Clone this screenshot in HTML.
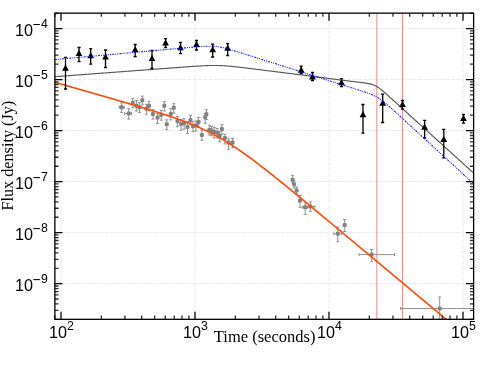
<!DOCTYPE html>
<html><head><meta charset="utf-8"><title>Flux density</title>
<style>
html,body{margin:0;padding:0;background:#fff;}
body{width:501px;height:371px;overflow:hidden;}
svg{display:block;will-change:transform;}
.tl{font-family:"Liberation Sans",sans-serif;font-size:16.2px;fill:#000;}
.sup{font-size:12.3px;}
.al{font-family:"Liberation Serif",serif;font-size:16.2px;fill:#000;}
.xl{font-size:16.5px;}
</style></head><body>
<svg width="501" height="371" viewBox="0 0 501 371">
<rect x="0" y="0" width="501" height="371" fill="#ffffff"/>
<defs><clipPath id="ax"><rect x="54.87" y="13.14" width="418.74" height="306.18"/></clipPath></defs>

<g stroke="#d6d6d6" stroke-width="0.5" stroke-dasharray="4.4 1.1" fill="none">
<line x1="61.00" y1="13.14" x2="61.00" y2="319.32"/>
<line x1="195.00" y1="13.14" x2="195.00" y2="319.32"/>
<line x1="329.00" y1="13.14" x2="329.00" y2="319.32"/>
<line x1="463.00" y1="13.14" x2="463.00" y2="319.32"/>
<line x1="54.87" y1="283.65" x2="473.61" y2="283.65"/>
<line x1="54.87" y1="232.62" x2="473.61" y2="232.62"/>
<line x1="54.87" y1="181.59" x2="473.61" y2="181.59"/>
<line x1="54.87" y1="130.56" x2="473.61" y2="130.56"/>
<line x1="54.87" y1="79.53" x2="473.61" y2="79.53"/>
<line x1="54.87" y1="28.50" x2="473.61" y2="28.50"/>
</g>
<g clip-path="url(#ax)">
<line x1="376.8" y1="13.14" x2="376.8" y2="319.32" stroke="#f28a8a" stroke-width="1"/>
<line x1="402.5" y1="13.14" x2="402.5" y2="319.32" stroke="#f28a8a" stroke-width="1"/>
<polyline points="54.9,76.69 55.9,76.61 56.9,76.54 57.9,76.46 58.9,76.39 59.9,76.31 60.9,76.24 61.9,76.16 62.9,76.09 63.9,76.01 64.9,75.94 65.9,75.86 66.9,75.79 67.9,75.71 68.9,75.64 69.9,75.56 70.9,75.49 71.9,75.41 72.9,75.34 73.9,75.26 74.9,75.19 75.9,75.11 76.9,75.04 77.9,74.97 78.9,74.89 79.9,74.82 80.9,74.74 81.9,74.67 82.9,74.59 83.9,74.52 84.9,74.44 85.9,74.37 86.9,74.29 87.9,74.22 88.9,74.14 89.9,74.07 90.9,73.99 91.9,73.92 92.9,73.84 93.9,73.77 94.9,73.69 95.9,73.62 96.9,73.54 97.9,73.47 98.9,73.39 99.9,73.32 100.9,73.24 101.9,73.17 102.9,73.10 103.9,73.02 104.9,72.95 105.9,72.87 106.9,72.80 107.9,72.72 108.9,72.65 109.9,72.57 110.9,72.50 111.9,72.42 112.9,72.35 113.9,72.27 114.9,72.20 115.9,72.12 116.9,72.05 117.9,71.97 118.9,71.90 119.9,71.82 120.9,71.75 121.9,71.67 122.9,71.60 123.9,71.52 124.9,71.45 125.9,71.37 126.9,71.30 127.9,71.23 128.9,71.15 129.9,71.08 130.9,71.00 131.9,70.93 132.9,70.85 133.9,70.78 134.9,70.70 135.9,70.63 136.9,70.55 137.9,70.48 138.9,70.40 139.9,70.33 140.9,70.25 141.9,70.18 142.9,70.10 143.9,70.03 144.9,69.95 145.9,69.88 146.9,69.80 147.9,69.73 148.9,69.65 149.9,69.58 150.9,69.51 151.9,69.43 152.9,69.36 153.9,69.28 154.9,69.21 155.9,69.13 156.9,69.06 157.9,68.98 158.9,68.91 159.9,68.83 160.9,68.76 161.9,68.68 162.9,68.61 163.9,68.53 164.9,68.46 165.9,68.38 166.9,68.31 167.9,68.23 168.9,68.16 169.9,68.09 170.9,68.01 171.9,67.94 172.9,67.86 173.9,67.79 174.9,67.71 175.9,67.64 176.9,67.57 177.9,67.49 178.9,67.42 179.9,67.34 180.9,67.27 181.9,67.20 182.9,67.12 183.9,67.05 184.9,66.98 185.9,66.91 186.9,66.83 187.9,66.76 188.9,66.69 189.9,66.62 190.9,66.55 191.9,66.48 192.9,66.41 193.9,66.34 194.9,66.28 195.9,66.21 196.9,66.15 197.9,66.08 198.9,66.02 199.9,65.96 200.9,65.90 201.9,65.85 202.9,65.79 203.9,65.74 204.9,65.70 205.9,65.65 206.9,65.61 207.9,65.57 208.9,65.54 209.9,65.51 210.9,65.49 211.9,65.47 212.9,65.46 213.9,65.46 214.9,65.46 215.9,65.46 216.9,65.48 217.9,65.50 218.9,65.52 219.9,65.56 220.9,65.60 221.9,65.64 222.9,65.70 223.9,65.76 224.9,65.82 225.9,65.89 226.9,65.97 227.9,66.05 228.9,66.14 229.9,66.23 230.9,66.32 231.9,66.42 232.9,66.52 233.9,66.62 234.9,66.73 235.9,66.84 236.9,66.95 237.9,67.06 238.9,67.17 239.9,67.29 240.9,67.40 241.9,67.52 242.9,67.64 243.9,67.76 244.9,67.88 245.9,68.00 246.9,68.12 247.9,68.25 248.9,68.37 249.9,68.49 250.9,68.62 251.9,68.74 252.9,68.87 253.9,68.99 254.9,69.11 255.9,69.24 256.9,69.36 257.9,69.49 258.9,69.62 259.9,69.74 260.9,69.87 261.9,69.99 262.9,70.12 263.9,70.24 264.9,70.37 265.9,70.50 266.9,70.62 267.9,70.75 268.9,70.87 269.9,71.00 270.9,71.13 271.9,71.25 272.9,71.38 273.9,71.50 274.9,71.63 275.9,71.76 276.9,71.88 277.9,72.01 278.9,72.14 279.9,72.26 280.9,72.39 281.9,72.51 282.9,72.64 283.9,72.77 284.9,72.89 285.9,73.02 286.9,73.15 287.9,73.27 288.9,73.40 289.9,73.52 290.9,73.65 291.9,73.78 292.9,73.90 293.9,74.03 294.9,74.16 295.9,74.28 296.9,74.41 297.9,74.53 298.9,74.66 299.9,74.79 300.9,74.91 301.9,75.04 302.9,75.17 303.9,75.29 304.9,75.42 305.9,75.55 306.9,75.67 307.9,75.80 308.9,75.92 309.9,76.05 310.9,76.18 311.9,76.30 312.9,76.43 313.9,76.56 314.9,76.68 315.9,76.81 316.9,76.93 317.9,77.06 318.9,77.19 319.9,77.31 320.9,77.44 321.9,77.57 322.9,77.69 323.9,77.82 324.9,77.94 325.9,78.07 326.9,78.20 327.9,78.32 328.9,78.45 329.9,78.58 330.9,78.70 331.9,78.83 332.9,78.96 333.9,79.08 334.9,79.21 335.9,79.33 336.9,79.46 337.9,79.59 338.9,79.71 339.9,79.84 340.9,79.97 341.9,80.09 342.9,80.22 343.9,80.34 344.9,80.47 345.9,80.60 346.9,80.72 347.9,80.85 348.9,80.98 349.9,81.10 350.9,81.23 351.9,81.36 352.9,81.48 353.9,81.61 354.9,81.73 355.9,81.86 356.9,81.99 357.9,82.12 358.9,82.24 359.9,82.37 360.9,82.50 361.9,82.63 362.9,82.76 363.9,82.90 364.9,83.04 365.9,83.18 366.9,83.33 367.9,83.50 368.9,83.68 369.9,83.87 370.9,84.10 371.9,84.36 372.9,84.67 373.9,85.04 374.9,85.46 375.9,85.96 376.9,86.53 377.9,87.16 378.9,87.86 379.9,88.61 380.9,89.39 381.9,90.21 382.9,91.06 383.9,91.92 384.9,92.79 385.9,93.68 386.9,94.57 387.9,95.46 388.9,96.36 389.9,97.26 390.9,98.16 391.9,99.07 392.9,99.97 393.9,100.88 394.9,101.78 395.9,102.69 396.9,103.59 397.9,104.50 398.9,105.40 399.9,106.31 400.9,107.21 401.9,108.12 402.9,109.02 403.9,109.93 404.9,110.83 405.9,111.74 406.9,112.65 407.9,113.55 408.9,114.46 409.9,115.36 410.9,116.27 411.9,117.17 412.9,118.08 413.9,118.98 414.9,119.89 415.9,120.80 416.9,121.70 417.9,122.61 418.9,123.51 419.9,124.42 420.9,125.32 421.9,126.23 422.9,127.14 423.9,128.04 424.9,128.95 425.9,129.85 426.9,130.76 427.9,131.66 428.9,132.57 429.9,133.47 430.9,134.38 431.9,135.29 432.9,136.19 433.9,137.10 434.9,138.00 435.9,138.91 436.9,139.81 437.9,140.72 438.9,141.62 439.9,142.53 440.9,143.44 441.9,144.34 442.9,145.25 443.9,146.15 444.9,147.06 445.9,147.96 446.9,148.87 447.9,149.78 448.9,150.68 449.9,151.59 450.9,152.49 451.9,153.40 452.9,154.30 453.9,155.21 454.9,156.11 455.9,157.02 456.9,157.93 457.9,158.83 458.9,159.74 459.9,160.64 460.9,161.55 461.9,162.45 462.9,163.36 463.9,164.26 464.9,165.17 465.9,166.08 466.9,166.98 467.9,167.89 468.9,168.79 469.9,169.70 470.9,170.60 471.9,171.51 472.9,172.42" fill="none" stroke="#565656" stroke-width="1.15"/>
<g stroke="#868686" stroke-width="0.9" fill="#828282">
<path d="M121.6 102.8V112.4M120.1 102.8h3M120.1 112.4h3" fill="none"/>
<path d="M119.2 107.3H124.4M119.2 105.8v3M124.4 105.8v3" fill="none"/>
<rect x="119.6" y="105.3" width="4" height="4" rx="1.2" stroke="none"/>
<path d="M128.7 108.7V119.1M127.2 108.7h3M127.2 119.1h3" fill="none"/>
<path d="M124.4 113.5H131.5M124.4 112.0v3M131.5 112.0v3" fill="none"/>
<rect x="126.7" y="111.5" width="4" height="4" rx="1.2" stroke="none"/>
<path d="M132.8 98.4V107.7M131.3 98.4h3M131.3 107.7h3" fill="none"/>
<rect x="130.8" y="100.8" width="4" height="4" rx="1.2" stroke="none"/>
<path d="M136.4 100.6V111.0M134.9 100.6h3M134.9 111.0h3" fill="none"/>
<rect x="134.4" y="103.8" width="4" height="4" rx="1.2" stroke="none"/>
<path d="M139.4 102.8V112.4M137.9 102.8h3M137.9 112.4h3" fill="none"/>
<rect x="137.4" y="105.3" width="4" height="4" rx="1.2" stroke="none"/>
<path d="M142.3 96.1V105.0M140.8 96.1h3M140.8 105.0h3" fill="none"/>
<rect x="140.3" y="98.3" width="4" height="4" rx="1.2" stroke="none"/>
<path d="M146.4 104.3V114.2M144.9 104.3h3M144.9 114.2h3" fill="none"/>
<rect x="144.4" y="106.7" width="4" height="4" rx="1.2" stroke="none"/>
<path d="M149.0 101.3V111.0M147.5 101.3h3M147.5 111.0h3" fill="none"/>
<rect x="147.0" y="103.8" width="4" height="4" rx="1.2" stroke="none"/>
<path d="M153.0 109.5V119.1M151.5 109.5h3M151.5 119.1h3" fill="none"/>
<rect x="151.0" y="111.9" width="4" height="4" rx="1.2" stroke="none"/>
<path d="M157.5 113.2V123.3M156.0 113.2h3M156.0 123.3h3" fill="none"/>
<rect x="155.5" y="115.6" width="4" height="4" rx="1.2" stroke="none"/>
<path d="M161.2 110.5V120.2M159.7 110.5h3M159.7 120.2h3" fill="none"/>
<rect x="159.2" y="112.7" width="4" height="4" rx="1.2" stroke="none"/>
<path d="M164.3 101.6V111.0M162.8 101.6h3M162.8 111.0h3" fill="none"/>
<rect x="162.3" y="103.8" width="4" height="4" rx="1.2" stroke="none"/>
<path d="M166.8 119.9V129.5M165.3 119.9h3M165.3 129.5h3" fill="none"/>
<rect x="164.8" y="122.3" width="4" height="4" rx="1.2" stroke="none"/>
<path d="M170.8 108.7V119.9M169.3 108.7h3M169.3 119.9h3" fill="none"/>
<rect x="168.8" y="111.9" width="4" height="4" rx="1.2" stroke="none"/>
<path d="M173.8 103.7V113.3M172.3 103.7h3M172.3 113.3h3" fill="none"/>
<rect x="171.8" y="105.8" width="4" height="4" rx="1.2" stroke="none"/>
<path d="M177.5 116.3V126.7M176.0 116.3h3M176.0 126.7h3" fill="none"/>
<rect x="175.5" y="119.2" width="4" height="4" rx="1.2" stroke="none"/>
<path d="M181.1 119.5V130.2M179.6 119.5h3M179.6 130.2h3" fill="none"/>
<rect x="179.1" y="121.9" width="4" height="4" rx="1.2" stroke="none"/>
<path d="M184.1 118.7V129.1M182.6 118.7h3M182.6 129.1h3" fill="none"/>
<rect x="182.1" y="121.2" width="4" height="4" rx="1.2" stroke="none"/>
<path d="M187.5 121.7V133.3M186.0 121.7h3M186.0 133.3h3" fill="none"/>
<rect x="185.5" y="124.9" width="4" height="4" rx="1.2" stroke="none"/>
<path d="M190.5 115.5V124.7M189.0 115.5h3M189.0 124.7h3" fill="none"/>
<rect x="188.5" y="118.2" width="4" height="4" rx="1.2" stroke="none"/>
<path d="M193.0 121.7V131.4M191.5 121.7h3M191.5 131.4h3" fill="none"/>
<rect x="191.0" y="124.2" width="4" height="4" rx="1.2" stroke="none"/>
<path d="M196.0 121.0V131.0M194.5 121.0h3M194.5 131.0h3" fill="none"/>
<rect x="194.0" y="123.4" width="4" height="4" rx="1.2" stroke="none"/>
<path d="M198.5 117.3V126.9M197.0 117.3h3M197.0 126.9h3" fill="none"/>
<rect x="196.5" y="120.0" width="4" height="4" rx="1.2" stroke="none"/>
<path d="M201.9 130.6V140.3M200.4 130.6h3M200.4 140.3h3" fill="none"/>
<rect x="199.9" y="133.0" width="4" height="4" rx="1.2" stroke="none"/>
<path d="M205.2 113.5V123.2M203.7 113.5h3M203.7 123.2h3" fill="none"/>
<rect x="203.2" y="115.3" width="4" height="4" rx="1.2" stroke="none"/>
<path d="M206.4 109.8V119.5M204.9 109.8h3M204.9 119.5h3" fill="none"/>
<rect x="204.4" y="112.3" width="4" height="4" rx="1.2" stroke="none"/>
<path d="M209.3 125.4V135.0M207.8 125.4h3M207.8 135.0h3" fill="none"/>
<rect x="207.3" y="127.9" width="4" height="4" rx="1.2" stroke="none"/>
<path d="M211.5 126.5V135.8M210.0 126.5h3M210.0 135.8h3" fill="none"/>
<rect x="209.5" y="128.6" width="4" height="4" rx="1.2" stroke="none"/>
<path d="M214.2 127.6V138.0M212.7 127.6h3M212.7 138.0h3" fill="none"/>
<rect x="212.2" y="130.1" width="4" height="4" rx="1.2" stroke="none"/>
<path d="M217.2 128.4V138.0M215.7 128.4h3M215.7 138.0h3" fill="none"/>
<rect x="215.2" y="130.8" width="4" height="4" rx="1.2" stroke="none"/>
<path d="M219.7 131.4V141.7M218.2 131.4h3M218.2 141.7h3" fill="none"/>
<rect x="217.7" y="133.8" width="4" height="4" rx="1.2" stroke="none"/>
<path d="M221.9 124.7V134.3M220.4 124.7h3M220.4 134.3h3" fill="none"/>
<rect x="219.9" y="127.1" width="4" height="4" rx="1.2" stroke="none"/>
<path d="M224.9 134.3V144.0M223.4 134.3h3M223.4 144.0h3" fill="none"/>
<rect x="222.9" y="136.0" width="4" height="4" rx="1.2" stroke="none"/>
<path d="M228.6 138.8V149.2M227.1 138.8h3M227.1 149.2h3" fill="none"/>
<rect x="226.6" y="140.5" width="4" height="4" rx="1.2" stroke="none"/>
<path d="M232.6 138.5V147.7M231.1 138.5h3M231.1 147.7h3" fill="none"/>
<rect x="230.6" y="140.5" width="4" height="4" rx="1.2" stroke="none"/>
<path d="M292.6 175.4V183.0M291.1 175.4h3M291.1 183.0h3" fill="none"/>
<rect x="290.6" y="177.8" width="4" height="4" rx="1.2" stroke="none"/>
<path d="M294.1 181.0V188.0M292.6 181.0h3M292.6 188.0h3" fill="none"/>
<rect x="292.1" y="182.3" width="4" height="4" rx="1.2" stroke="none"/>
<path d="M296.6 187.0V194.0M295.1 187.0h3M295.1 194.0h3" fill="none"/>
<rect x="294.6" y="188.5" width="4" height="4" rx="1.2" stroke="none"/>
<path d="M300.0 195.4V207.3M298.5 195.4h3M298.5 207.3h3" fill="none"/>
<rect x="298.0" y="198.6" width="4" height="4" rx="1.2" stroke="none"/>
<path d="M305.2 202.8V214.4M303.7 202.8h3M303.7 214.4h3" fill="none"/>
<path d="M302.3 207.3H307.5M302.3 205.8v3M307.5 205.8v3" fill="none"/>
<rect x="303.2" y="205.3" width="4" height="4" rx="1.2" stroke="none"/>
<path d="M310.4 202.1V211.3M308.9 202.1h3M308.9 211.3h3" fill="none"/>
<path d="M308.2 206.5H314.9M308.2 205.0v3M314.9 205.0v3" fill="none"/>
<rect x="308.4" y="204.5" width="4" height="4" rx="1.2" stroke="none"/>
<path d="M337.8 226.9V241.8M336.3 226.9h3M336.3 241.8h3" fill="none"/>
<path d="M333.9 233.8H341.9M333.9 232.3v3M341.9 232.3v3" fill="none"/>
<rect x="335.8" y="231.8" width="4" height="4" rx="1.2" stroke="none"/>
<path d="M344.7 219.6V231.5M343.2 219.6h3M343.2 231.5h3" fill="none"/>
<rect x="342.7" y="223.1" width="4" height="4" rx="1.2" stroke="none"/>
<path d="M371.6 249.6V261.3M370.1 249.6h3M370.1 261.3h3" fill="none"/>
<path d="M359.0 254.6H394.5M359.0 253.1v3M394.5 253.1v3" fill="none"/>
<rect x="369.6" y="252.6" width="4" height="4" rx="1.2" stroke="none"/>
<path d="M439.7 297.0V319.3M438.2 297.0h3M438.2 319.3h3" fill="none"/>
<path d="M400.6 308.5H473.6M400.6 307.0v3M473.6 307.0v3" fill="none"/>
<rect x="437.7" y="306.5" width="4" height="4" rx="1.2" stroke="none"/>
</g>
<polyline points="54.9,82.27 55.9,82.56 56.9,82.84 57.9,83.13 58.9,83.42 59.9,83.70 60.9,83.99 61.9,84.28 62.9,84.56 63.9,84.85 64.9,85.14 65.9,85.42 66.9,85.71 67.9,86.00 68.9,86.28 69.9,86.57 70.9,86.86 71.9,87.15 72.9,87.43 73.9,87.72 74.9,88.01 75.9,88.29 76.9,88.58 77.9,88.87 78.9,89.16 79.9,89.44 80.9,89.73 81.9,90.02 82.9,90.30 83.9,90.59 84.9,90.88 85.9,91.17 86.9,91.45 87.9,91.74 88.9,92.03 89.9,92.32 90.9,92.60 91.9,92.89 92.9,93.18 93.9,93.47 94.9,93.76 95.9,94.04 96.9,94.33 97.9,94.62 98.9,94.91 99.9,95.20 100.9,95.49 101.9,95.77 102.9,96.06 103.9,96.35 104.9,96.64 105.9,96.93 106.9,97.22 107.9,97.51 108.9,97.80 109.9,98.09 110.9,98.38 111.9,98.67 112.9,98.96 113.9,99.25 114.9,99.54 115.9,99.83 116.9,100.12 117.9,100.41 118.9,100.70 119.9,100.99 120.9,101.28 121.9,101.58 122.9,101.87 123.9,102.16 124.9,102.45 125.9,102.75 126.9,103.04 127.9,103.33 128.9,103.63 129.9,103.92 130.9,104.22 131.9,104.51 132.9,104.81 133.9,105.10 134.9,105.40 135.9,105.69 136.9,105.99 137.9,106.29 138.9,106.59 139.9,106.89 140.9,107.19 141.9,107.49 142.9,107.79 143.9,108.09 144.9,108.39 145.9,108.69 146.9,109.00 147.9,109.30 148.9,109.61 149.9,109.91 150.9,110.22 151.9,110.53 152.9,110.84 153.9,111.15 154.9,111.46 155.9,111.77 156.9,112.09 157.9,112.40 158.9,112.72 159.9,113.03 160.9,113.35 161.9,113.67 162.9,114.00 163.9,114.32 164.9,114.65 165.9,114.97 166.9,115.30 167.9,115.63 168.9,115.97 169.9,116.30 170.9,116.64 171.9,116.98 172.9,117.32 173.9,117.66 174.9,118.01 175.9,118.36 176.9,118.71 177.9,119.06 178.9,119.42 179.9,119.78 180.9,120.15 181.9,120.51 182.9,120.88 183.9,121.26 184.9,121.63 185.9,122.01 186.9,122.40 187.9,122.79 188.9,123.18 189.9,123.57 190.9,123.98 191.9,124.38 192.9,124.79 193.9,125.20 194.9,125.62 195.9,126.05 196.9,126.48 197.9,126.91 198.9,127.35 199.9,127.79 200.9,128.24 201.9,128.70 202.9,129.16 203.9,129.63 204.9,130.10 205.9,130.58 206.9,131.06 207.9,131.55 208.9,132.05 209.9,132.55 210.9,133.06 211.9,133.57 212.9,134.09 213.9,134.62 214.9,135.16 215.9,135.70 216.9,136.25 217.9,136.80 218.9,137.36 219.9,137.93 220.9,138.50 221.9,139.08 222.9,139.67 223.9,140.26 224.9,140.86 225.9,141.46 226.9,142.08 227.9,142.70 228.9,143.32 229.9,143.95 230.9,144.59 231.9,145.23 232.9,145.88 233.9,146.53 234.9,147.19 235.9,147.86 236.9,148.53 237.9,149.21 238.9,149.89 239.9,150.58 240.9,151.27 241.9,151.97 242.9,152.67 243.9,153.38 244.9,154.09 245.9,154.80 246.9,155.52 247.9,156.25 248.9,156.98 249.9,157.71 250.9,158.45 251.9,159.19 252.9,159.93 253.9,160.68 254.9,161.43 255.9,162.19 256.9,162.94 257.9,163.70 258.9,164.47 259.9,165.23 260.9,166.00 261.9,166.78 262.9,167.55 263.9,168.33 264.9,169.11 265.9,169.89 266.9,170.67 267.9,171.46 268.9,172.25 269.9,173.04 270.9,173.83 271.9,174.63 272.9,175.42 273.9,176.22 274.9,177.02 275.9,177.82 276.9,178.62 277.9,179.43 278.9,180.23 279.9,181.04 280.9,181.85 281.9,182.66 282.9,183.47 283.9,184.28 284.9,185.09 285.9,185.90 286.9,186.72 287.9,187.53 288.9,188.35 289.9,189.17 290.9,189.98 291.9,190.80 292.9,191.62 293.9,192.44 294.9,193.26 295.9,194.08 296.9,194.91 297.9,195.73 298.9,196.55 299.9,197.38 300.9,198.20 301.9,199.02 302.9,199.85 303.9,200.68 304.9,201.50 305.9,202.33 306.9,203.15 307.9,203.98 308.9,204.81 309.9,205.64 310.9,206.47 311.9,207.29 312.9,208.12 313.9,208.95 314.9,209.78 315.9,210.61 316.9,211.44 317.9,212.27 318.9,213.10 319.9,213.93 320.9,214.76 321.9,215.60 322.9,216.43 323.9,217.26 324.9,218.09 325.9,218.92 326.9,219.75 327.9,220.59 328.9,221.42 329.9,222.25 330.9,223.08 331.9,223.91 332.9,224.75 333.9,225.58 334.9,226.41 335.9,227.25 336.9,228.08 337.9,228.91 338.9,229.75 339.9,230.58 340.9,231.41 341.9,232.25 342.9,233.08 343.9,233.91 344.9,234.75 345.9,235.58 346.9,236.41 347.9,237.25 348.9,238.08 349.9,238.92 350.9,239.75 351.9,240.58 352.9,241.42 353.9,242.25 354.9,243.09 355.9,243.92 356.9,244.76 357.9,245.59 358.9,246.42 359.9,247.26 360.9,248.09 361.9,248.93 362.9,249.76 363.9,250.60 364.9,251.43 365.9,252.27 366.9,253.10 367.9,253.94 368.9,254.77 369.9,255.61 370.9,256.44 371.9,257.27 372.9,258.11 373.9,258.94 374.9,259.78 375.9,260.61 376.9,261.45 377.9,262.28 378.9,263.12 379.9,263.95 380.9,264.79 381.9,265.62 382.9,266.46 383.9,267.29 384.9,268.13 385.9,268.96 386.9,269.80 387.9,270.63 388.9,271.47 389.9,272.30 390.9,273.14 391.9,273.97 392.9,274.81 393.9,275.64 394.9,276.48 395.9,277.31 396.9,278.15 397.9,278.98 398.9,279.82 399.9,280.65 400.9,281.49 401.9,282.32 402.9,283.16 403.9,283.99 404.9,284.83 405.9,285.66 406.9,286.50 407.9,287.33 408.9,288.17 409.9,289.00 410.9,289.84 411.9,290.67 412.9,291.51 413.9,292.34 414.9,293.18 415.9,294.01 416.9,294.85 417.9,295.68 418.9,296.52 419.9,297.35 420.9,298.19 421.9,299.02 422.9,299.86 423.9,300.69 424.9,301.53 425.9,302.36 426.9,303.20 427.9,304.03 428.9,304.87 429.9,305.70 430.9,306.54 431.9,307.37 432.9,308.21 433.9,309.04 434.9,309.88 435.9,310.71 436.9,311.55 437.9,312.38 438.9,313.22 439.9,314.05 440.9,314.89 441.9,315.72 442.9,316.56 443.9,317.39 444.9,318.23 445.9,319.06 446.9,319.90 447.9,320.73 448.9,321.57 449.9,322.40 450.9,323.24 451.9,324.08 452.9,324.91 453.9,325.75 454.9,326.58 455.9,327.42 456.9,328.25 457.9,329.09 458.9,329.92 459.9,330.76 460.9,331.59 461.9,332.43 462.9,333.26 463.9,334.10 464.9,334.93 465.9,335.77 466.9,336.60 467.9,337.44 468.9,338.27 469.9,339.11 470.9,339.94 471.9,340.78 472.9,341.61" fill="none" stroke="#ff4a08" stroke-width="1.6"/>
<g stroke="#000" stroke-width="1.3" fill="#000">
<path d="M65.5 57.5V89.0M64.0 57.5h3.1M64.0 89.0h3.1" fill="none"/>
<path d="M65.5 64.5L68.8 70.8H62.1Z" stroke="none"/>
<path d="M79.0 47.5V61.7M77.5 47.5h3.1M77.5 61.7h3.1" fill="none"/>
<path d="M79.0 49.7L82.3 56.0H75.7Z" stroke="none"/>
<path d="M90.7 48.7V64.2M89.2 48.7h3.1M89.2 64.2h3.1" fill="none"/>
<path d="M90.7 52.0L94.0 58.3H87.4Z" stroke="none"/>
<path d="M105.5 50.0V67.5M104.0 50.0h3.1M104.0 67.5h3.1" fill="none"/>
<path d="M105.5 53.2L108.8 59.5H102.2Z" stroke="none"/>
<path d="M135.2 44.5V56.7M133.6 44.5h3.1M133.6 56.7h3.1" fill="none"/>
<path d="M135.2 46.0L138.5 52.3H131.8Z" stroke="none"/>
<path d="M152.0 50.5V68.5M150.4 50.5h3.1M150.4 68.5h3.1" fill="none"/>
<path d="M152.0 54.7L155.3 61.0H148.7Z" stroke="none"/>
<path d="M165.6 38.7V47.5M164.0 38.7h3.1M164.0 47.5h3.1" fill="none"/>
<path d="M165.6 39.2L168.9 45.5H162.2Z" stroke="none"/>
<path d="M180.5 42.5V53.7M178.9 42.5h3.1M178.9 53.7h3.1" fill="none"/>
<path d="M180.5 44.0L183.8 50.3H177.2Z" stroke="none"/>
<path d="M196.5 40.5V50.0M194.9 40.5h3.1M194.9 50.0h3.1" fill="none"/>
<path d="M196.5 40.7L199.8 47.0H193.2Z" stroke="none"/>
<path d="M212.7 44.2V57.0M211.1 44.2h3.1M211.1 57.0h3.1" fill="none"/>
<path d="M212.7 45.9L216.0 52.2H209.3Z" stroke="none"/>
<path d="M227.7 43.7V55.5M226.1 43.7h3.1M226.1 55.5h3.1" fill="none"/>
<path d="M227.7 44.5L231.0 50.8H224.3Z" stroke="none"/>
<path d="M301.2 66.2V73.7M299.6 66.2h3.1M299.6 73.7h3.1" fill="none"/>
<path d="M301.2 66.5L304.6 72.8H297.8Z" stroke="none"/>
<path d="M312.5 72.5V80.7M310.9 72.5h3.1M310.9 80.7h3.1" fill="none"/>
<path d="M312.5 73.2L315.9 79.5H309.1Z" stroke="none"/>
<path d="M341.5 78.7V86.7M339.9 78.7h3.1M339.9 86.7h3.1" fill="none"/>
<path d="M341.5 79.0L344.9 85.3H338.1Z" stroke="none"/>
<path d="M363.0 104.5V133.2M361.4 104.5h3.1M361.4 133.2h3.1" fill="none"/>
<path d="M363.0 111.0L366.4 117.3H359.6Z" stroke="none"/>
<path d="M382.7 94.2V122.5M381.1 94.2h3.1M381.1 122.5h3.1" fill="none"/>
<path d="M382.7 99.5L386.1 105.8H379.3Z" stroke="none"/>
<path d="M402.5 100.5V109.2M400.9 100.5h3.1M400.9 109.2h3.1" fill="none"/>
<path d="M402.5 100.7L405.9 107.0H399.1Z" stroke="none"/>
<path d="M424.6 120.3V138.0M423.1 120.3h3.1M423.1 138.0h3.1" fill="none"/>
<path d="M424.6 123.5L428.0 129.8H421.2Z" stroke="none"/>
<path d="M443.8 129.4V157.8M442.2 129.4h3.1M442.2 157.8h3.1" fill="none"/>
<path d="M443.8 135.8L447.2 142.1H440.4Z" stroke="none"/>
<path d="M463.5 114.5V123.2M461.9 114.5h3.1M461.9 123.2h3.1" fill="none"/>
<path d="M463.5 114.8L466.9 121.1H460.1Z" stroke="none"/>
</g>
<polyline points="54.9,59.55 55.9,59.46 56.9,59.37 57.9,59.28 58.9,59.19 59.9,59.10 60.9,59.01 61.9,58.92 62.9,58.83 63.9,58.74 64.9,58.65 65.9,58.56 66.9,58.47 67.9,58.38 68.9,58.29 69.9,58.20 70.9,58.11 71.9,58.02 72.9,57.93 73.9,57.84 74.9,57.75 75.9,57.66 76.9,57.57 77.9,57.48 78.9,57.39 79.9,57.30 80.9,57.21 81.9,57.12 82.9,57.03 83.9,56.94 84.9,56.85 85.9,56.76 86.9,56.67 87.9,56.58 88.9,56.49 89.9,56.40 90.9,56.31 91.9,56.22 92.9,56.13 93.9,56.04 94.9,55.95 95.9,55.86 96.9,55.77 97.9,55.68 98.9,55.59 99.9,55.50 100.9,55.41 101.9,55.32 102.9,55.23 103.9,55.14 104.9,55.05 105.9,54.96 106.9,54.87 107.9,54.78 108.9,54.69 109.9,54.60 110.9,54.51 111.9,54.42 112.9,54.33 113.9,54.24 114.9,54.15 115.9,54.06 116.9,53.97 117.9,53.88 118.9,53.80 119.9,53.71 120.9,53.62 121.9,53.53 122.9,53.44 123.9,53.35 124.9,53.26 125.9,53.17 126.9,53.08 127.9,52.99 128.9,52.90 129.9,52.81 130.9,52.72 131.9,52.63 132.9,52.54 133.9,52.45 134.9,52.36 135.9,52.27 136.9,52.18 137.9,52.09 138.9,52.00 139.9,51.91 140.9,51.82 141.9,51.73 142.9,51.64 143.9,51.55 144.9,51.46 145.9,51.37 146.9,51.28 147.9,51.19 148.9,51.10 149.9,51.01 150.9,50.92 151.9,50.83 152.9,50.74 153.9,50.65 154.9,50.56 155.9,50.47 156.9,50.38 157.9,50.29 158.9,50.20 159.9,50.11 160.9,50.02 161.9,49.93 162.9,49.84 163.9,49.75 164.9,49.66 165.9,49.57 166.9,49.48 167.9,49.39 168.9,49.30 169.9,49.21 170.9,49.12 171.9,49.03 172.9,48.94 173.9,48.85 174.9,48.76 175.9,48.67 176.9,48.58 177.9,48.49 178.9,48.40 179.9,48.31 180.9,48.22 181.9,48.13 182.9,48.04 183.9,47.95 184.9,47.86 185.9,47.77 186.9,47.69 187.9,47.60 188.9,47.51 189.9,47.42 190.9,47.33 191.9,47.25 192.9,47.16 193.9,47.08 194.9,46.99 195.9,46.91 196.9,46.83 197.9,46.75 198.9,46.68 199.9,46.60 200.9,46.53 201.9,46.46 202.9,46.40 203.9,46.34 204.9,46.29 205.9,46.25 206.9,46.21 207.9,46.19 208.9,46.17 209.9,46.17 210.9,46.18 211.9,46.20 212.9,46.25 213.9,46.30 214.9,46.38 215.9,46.48 216.9,46.59 217.9,46.72 218.9,46.88 219.9,47.05 220.9,47.23 221.9,47.44 222.9,47.66 223.9,47.89 224.9,48.13 225.9,48.38 226.9,48.65 227.9,48.92 228.9,49.20 229.9,49.48 230.9,49.77 231.9,50.07 232.9,50.36 233.9,50.66 234.9,50.97 235.9,51.27 236.9,51.58 237.9,51.89 238.9,52.20 239.9,52.51 240.9,52.82 241.9,53.13 242.9,53.45 243.9,53.76 244.9,54.07 245.9,54.39 246.9,54.70 247.9,55.02 248.9,55.33 249.9,55.65 250.9,55.96 251.9,56.28 252.9,56.59 253.9,56.91 254.9,57.23 255.9,57.54 256.9,57.86 257.9,58.17 258.9,58.49 259.9,58.81 260.9,59.12 261.9,59.44 262.9,59.75 263.9,60.07 264.9,60.39 265.9,60.70 266.9,61.02 267.9,61.33 268.9,61.65 269.9,61.97 270.9,62.28 271.9,62.60 272.9,62.91 273.9,63.23 274.9,63.55 275.9,63.86 276.9,64.18 277.9,64.49 278.9,64.81 279.9,65.13 280.9,65.44 281.9,65.76 282.9,66.08 283.9,66.39 284.9,66.71 285.9,67.02 286.9,67.34 287.9,67.66 288.9,67.97 289.9,68.29 290.9,68.60 291.9,68.92 292.9,69.24 293.9,69.55 294.9,69.87 295.9,70.18 296.9,70.50 297.9,70.82 298.9,71.13 299.9,71.45 300.9,71.77 301.9,72.08 302.9,72.40 303.9,72.71 304.9,73.03 305.9,73.35 306.9,73.66 307.9,73.98 308.9,74.29 309.9,74.61 310.9,74.93 311.9,75.24 312.9,75.56 313.9,75.87 314.9,76.19 315.9,76.51 316.9,76.82 317.9,77.14 318.9,77.46 319.9,77.77 320.9,78.09 321.9,78.40 322.9,78.72 323.9,79.04 324.9,79.35 325.9,79.67 326.9,79.98 327.9,80.30 328.9,80.62 329.9,80.93 330.9,81.25 331.9,81.56 332.9,81.88 333.9,82.20 334.9,82.51 335.9,82.83 336.9,83.14 337.9,83.46 338.9,83.78 339.9,84.09 340.9,84.41 341.9,84.73 342.9,85.04 343.9,85.36 344.9,85.67 345.9,85.99 346.9,86.31 347.9,86.62 348.9,86.94 349.9,87.26 350.9,87.57 351.9,87.89 352.9,88.21 353.9,88.52 354.9,88.84 355.9,89.16 356.9,89.48 357.9,89.80 358.9,90.12 359.9,90.44 360.9,90.76 361.9,91.09 362.9,91.41 363.9,91.74 364.9,92.08 365.9,92.42 366.9,92.76 367.9,93.12 368.9,93.48 369.9,93.86 370.9,94.25 371.9,94.65 372.9,95.08 373.9,95.54 374.9,96.02 375.9,96.53 376.9,97.08 377.9,97.66 378.9,98.29 379.9,98.94 380.9,99.64 381.9,100.37 382.9,101.13 383.9,101.92 384.9,102.73 385.9,103.56 386.9,104.41 387.9,105.27 388.9,106.14 389.9,107.02 390.9,107.91 391.9,108.81 392.9,109.71 393.9,110.61 394.9,111.52 395.9,112.43 396.9,113.34 397.9,114.26 398.9,115.17 399.9,116.08 400.9,117.00 401.9,117.92 402.9,118.83 403.9,119.75 404.9,120.67 405.9,121.58 406.9,122.50 407.9,123.42 408.9,124.33 409.9,125.25 410.9,126.17 411.9,127.09 412.9,128.00 413.9,128.92 414.9,129.84 415.9,130.76 416.9,131.68 417.9,132.59 418.9,133.51 419.9,134.43 420.9,135.35 421.9,136.26 422.9,137.18 423.9,138.10 424.9,139.02 425.9,139.94 426.9,140.85 427.9,141.77 428.9,142.69 429.9,143.61 430.9,144.52 431.9,145.44 432.9,146.36 433.9,147.28 434.9,148.20 435.9,149.11 436.9,150.03 437.9,150.95 438.9,151.87 439.9,152.79 440.9,153.70 441.9,154.62 442.9,155.54 443.9,156.46 444.9,157.37 445.9,158.29 446.9,159.21 447.9,160.13 448.9,161.05 449.9,161.96 450.9,162.88 451.9,163.80 452.9,164.72 453.9,165.63 454.9,166.55 455.9,167.47 456.9,168.39 457.9,169.31 458.9,170.22 459.9,171.14 460.9,172.06 461.9,172.98 462.9,173.89 463.9,174.81 464.9,175.73 465.9,176.65 466.9,177.57 467.9,178.48 468.9,179.40 469.9,180.32 470.9,181.24 471.9,182.15 472.9,183.07" fill="none" stroke="#1010f0" stroke-width="1.05" stroke-dasharray="2 1 1 1 1 1.2"/>
</g>
<g stroke="#000" stroke-width="1.25" fill="none">
<path d="M61.00 13.14v7.6M61.00 319.32v-7.6"/>
<path d="M195.00 13.14v7.6M195.00 319.32v-7.6"/>
<path d="M329.00 13.14v7.6M329.00 319.32v-7.6"/>
<path d="M463.00 13.14v7.6M463.00 319.32v-7.6"/>
<path d="M54.87 283.65h7.6M473.61 283.65h-7.6"/>
<path d="M54.87 232.62h7.6M473.61 232.62h-7.6"/>
<path d="M54.87 181.59h7.6M473.61 181.59h-7.6"/>
<path d="M54.87 130.56h7.6M473.61 130.56h-7.6"/>
<path d="M54.87 79.53h7.6M473.61 79.53h-7.6"/>
<path d="M54.87 28.50h7.6M473.61 28.50h-7.6"/>
</g>
<g stroke="#303030" stroke-width="1.3" fill="none">
<path d="M54.87 13.14v3.7M54.87 319.32v-3.7"/>
<path d="M101.34 13.14v3.7M101.34 319.32v-3.7"/>
<path d="M124.93 13.14v3.7M124.93 319.32v-3.7"/>
<path d="M141.68 13.14v3.7M141.68 319.32v-3.7"/>
<path d="M154.66 13.14v3.7M154.66 319.32v-3.7"/>
<path d="M165.27 13.14v3.7M165.27 319.32v-3.7"/>
<path d="M174.24 13.14v3.7M174.24 319.32v-3.7"/>
<path d="M182.01 13.14v3.7M182.01 319.32v-3.7"/>
<path d="M188.87 13.14v3.7M188.87 319.32v-3.7"/>
<path d="M235.34 13.14v3.7M235.34 319.32v-3.7"/>
<path d="M258.93 13.14v3.7M258.93 319.32v-3.7"/>
<path d="M275.68 13.14v3.7M275.68 319.32v-3.7"/>
<path d="M288.66 13.14v3.7M288.66 319.32v-3.7"/>
<path d="M299.27 13.14v3.7M299.27 319.32v-3.7"/>
<path d="M308.24 13.14v3.7M308.24 319.32v-3.7"/>
<path d="M316.01 13.14v3.7M316.01 319.32v-3.7"/>
<path d="M322.87 13.14v3.7M322.87 319.32v-3.7"/>
<path d="M369.34 13.14v3.7M369.34 319.32v-3.7"/>
<path d="M392.93 13.14v3.7M392.93 319.32v-3.7"/>
<path d="M409.68 13.14v3.7M409.68 319.32v-3.7"/>
<path d="M422.66 13.14v3.7M422.66 319.32v-3.7"/>
<path d="M433.27 13.14v3.7M433.27 319.32v-3.7"/>
<path d="M442.24 13.14v3.7M442.24 319.32v-3.7"/>
<path d="M450.01 13.14v3.7M450.01 319.32v-3.7"/>
<path d="M456.87 13.14v3.7M456.87 319.32v-3.7"/>
<path d="M54.87 319.32h3.7M473.61 319.32h-3.7"/>
<path d="M54.87 310.33h3.7M473.61 310.33h-3.7"/>
<path d="M54.87 303.96h3.7M473.61 303.96h-3.7"/>
<path d="M54.87 299.01h3.7M473.61 299.01h-3.7"/>
<path d="M54.87 294.97h3.7M473.61 294.97h-3.7"/>
<path d="M54.87 291.55h3.7M473.61 291.55h-3.7"/>
<path d="M54.87 288.60h3.7M473.61 288.60h-3.7"/>
<path d="M54.87 285.99h3.7M473.61 285.99h-3.7"/>
<path d="M54.87 268.29h3.7M473.61 268.29h-3.7"/>
<path d="M54.87 259.30h3.7M473.61 259.30h-3.7"/>
<path d="M54.87 252.93h3.7M473.61 252.93h-3.7"/>
<path d="M54.87 247.98h3.7M473.61 247.98h-3.7"/>
<path d="M54.87 243.94h3.7M473.61 243.94h-3.7"/>
<path d="M54.87 240.52h3.7M473.61 240.52h-3.7"/>
<path d="M54.87 237.57h3.7M473.61 237.57h-3.7"/>
<path d="M54.87 234.96h3.7M473.61 234.96h-3.7"/>
<path d="M54.87 217.26h3.7M473.61 217.26h-3.7"/>
<path d="M54.87 208.27h3.7M473.61 208.27h-3.7"/>
<path d="M54.87 201.90h3.7M473.61 201.90h-3.7"/>
<path d="M54.87 196.95h3.7M473.61 196.95h-3.7"/>
<path d="M54.87 192.91h3.7M473.61 192.91h-3.7"/>
<path d="M54.87 189.49h3.7M473.61 189.49h-3.7"/>
<path d="M54.87 186.54h3.7M473.61 186.54h-3.7"/>
<path d="M54.87 183.93h3.7M473.61 183.93h-3.7"/>
<path d="M54.87 166.23h3.7M473.61 166.23h-3.7"/>
<path d="M54.87 157.24h3.7M473.61 157.24h-3.7"/>
<path d="M54.87 150.87h3.7M473.61 150.87h-3.7"/>
<path d="M54.87 145.92h3.7M473.61 145.92h-3.7"/>
<path d="M54.87 141.88h3.7M473.61 141.88h-3.7"/>
<path d="M54.87 138.46h3.7M473.61 138.46h-3.7"/>
<path d="M54.87 135.51h3.7M473.61 135.51h-3.7"/>
<path d="M54.87 132.90h3.7M473.61 132.90h-3.7"/>
<path d="M54.87 115.20h3.7M473.61 115.20h-3.7"/>
<path d="M54.87 106.21h3.7M473.61 106.21h-3.7"/>
<path d="M54.87 99.84h3.7M473.61 99.84h-3.7"/>
<path d="M54.87 94.89h3.7M473.61 94.89h-3.7"/>
<path d="M54.87 90.85h3.7M473.61 90.85h-3.7"/>
<path d="M54.87 87.43h3.7M473.61 87.43h-3.7"/>
<path d="M54.87 84.48h3.7M473.61 84.48h-3.7"/>
<path d="M54.87 81.87h3.7M473.61 81.87h-3.7"/>
<path d="M54.87 64.17h3.7M473.61 64.17h-3.7"/>
<path d="M54.87 55.18h3.7M473.61 55.18h-3.7"/>
<path d="M54.87 48.81h3.7M473.61 48.81h-3.7"/>
<path d="M54.87 43.86h3.7M473.61 43.86h-3.7"/>
<path d="M54.87 39.82h3.7M473.61 39.82h-3.7"/>
<path d="M54.87 36.40h3.7M473.61 36.40h-3.7"/>
<path d="M54.87 33.45h3.7M473.61 33.45h-3.7"/>
<path d="M54.87 30.84h3.7M473.61 30.84h-3.7"/>
<path d="M54.87 13.14h3.7M473.61 13.14h-3.7"/>
</g>
<rect x="54.87" y="13.14" width="418.74" height="306.18" fill="none" stroke="#000" stroke-width="1.3"/>
<g>
<text class="tl" x="49.1" y="337.8">10</text><text class="tl sup" x="67.0" y="330.0">2</text>
<text class="tl" x="183.1" y="337.8">10</text><text class="tl sup" x="201.0" y="330.0">3</text>
<text class="tl" x="317.1" y="337.8">10</text><text class="tl sup" x="335.0" y="330.0">4</text>
<text class="tl" x="451.1" y="337.8">10</text><text class="tl sup" x="469.0" y="330.0">5</text>
<text class="tl" x="15.0" y="290.8">10</text><path d="M33.4 279.6H39.9" stroke="#000" stroke-width="1.05" fill="none"/><text class="tl sup" x="40.9" y="282.8">9</text>
<text class="tl" x="15.0" y="239.7">10</text><path d="M33.4 228.6H39.9" stroke="#000" stroke-width="1.05" fill="none"/><text class="tl sup" x="40.9" y="231.7">8</text>
<text class="tl" x="15.0" y="188.7">10</text><path d="M33.4 177.6H39.9" stroke="#000" stroke-width="1.05" fill="none"/><text class="tl sup" x="40.9" y="180.7">7</text>
<text class="tl" x="15.0" y="137.7">10</text><path d="M33.4 126.6H39.9" stroke="#000" stroke-width="1.05" fill="none"/><text class="tl sup" x="40.9" y="129.7">6</text>
<text class="tl" x="15.0" y="86.6">10</text><path d="M33.4 75.5H39.9" stroke="#000" stroke-width="1.05" fill="none"/><text class="tl sup" x="40.9" y="78.6">5</text>
<text class="tl" x="15.0" y="35.6">10</text><path d="M33.4 24.5H39.9" stroke="#000" stroke-width="1.05" fill="none"/><text class="tl sup" x="40.9" y="27.6">4</text>
<text class="al xl" x="213.8" y="341.9">Time (seconds)</text>
<text class="al" transform="translate(13.3,210.5) rotate(-90)">Flux density (Jy)</text>
</g>
</svg></body></html>
